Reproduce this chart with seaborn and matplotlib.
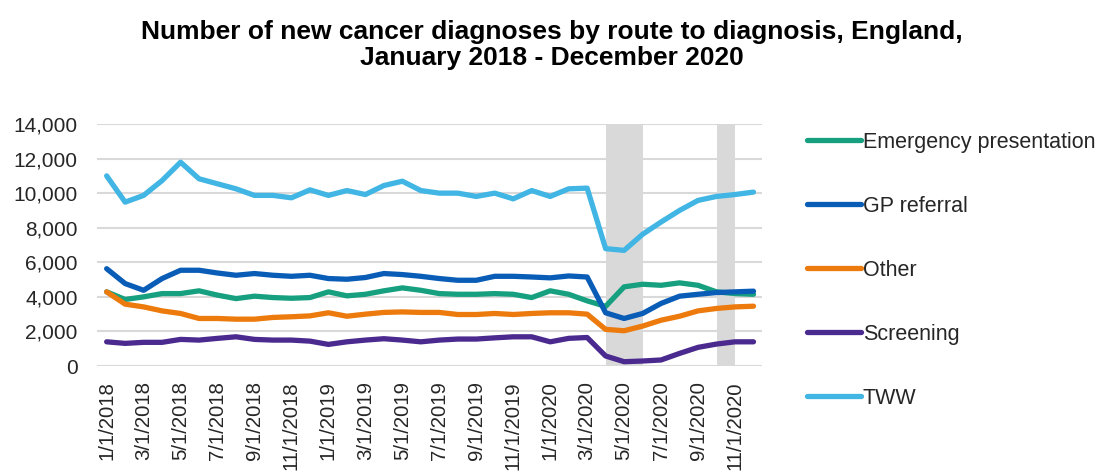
import numpy as np
import pandas as pd
import matplotlib
matplotlib.use("Agg")
import matplotlib.pyplot as plt
import seaborn as sns
from matplotlib.lines import Line2D

# ---------------- data ----------------
months = pd.date_range("2018-01-01", "2020-12-01", freq="MS")

emergency = [4290, 3850, 4000, 4190, 4190, 4350, 4100, 3900, 4040,
             3960, 3920, 3960, 4290, 4060, 4150, 4350, 4520, 4380,
             4190, 4150, 4150, 4190, 4150, 3960, 4350, 4150, 3770,
             3450, 4580, 4730, 4670, 4810, 4670, 4290, 4190, 4150]
gp_referral = [5630, 4770, 4380, 5060, 5540, 5540, 5380, 5250, 5350,
               5250, 5190, 5250, 5060, 5020, 5120, 5350, 5290, 5190,
               5060, 4960, 4960, 5190, 5190, 5150, 5100, 5210, 5150,
               3080, 2750, 3040, 3620, 4040, 4150, 4250, 4290, 4330]
other = [4290, 3580, 3420, 3190, 3040, 2750, 2750, 2710, 2710,
         2810, 2850, 2900, 3080, 2880, 3000, 3100, 3130, 3100,
         3100, 2980, 2980, 3040, 2980, 3040, 3080, 3080, 3000,
         2120, 2040, 2310, 2650, 2880, 3190, 3330, 3420, 3460]
screening = [1400, 1310, 1370, 1370, 1540, 1500, 1600, 1690, 1540,
             1500, 1500, 1440, 1250, 1400, 1500, 1580, 1500, 1400,
             1500, 1560, 1560, 1630, 1690, 1690, 1400, 1600, 1650,
             580, 250, 290, 350, 730, 1080, 1270, 1400, 1400]
tww = [11000, 9480, 9870, 10730, 11790, 10830, 10540, 10250, 9870,
       9870, 9730, 10190, 9870, 10150, 9920, 10440, 10690, 10150,
       10000, 10000, 9810, 10000, 9670, 10150, 9810, 10250, 10290,
       6790, 6690, 7620, 8330, 9000, 9580, 9810, 9920, 10060]

series_names = ["Emergency presentation", "GP referral", "Other", "Screening", "TWW"]
series_values = [emergency, gp_referral, other, screening, tww]
series_colors = ["#17a07f", "#0a5db6", "#ec7a0c", "#4b2a8f", "#41b5e3"]

shade_start = ["2020-04-01", "2020-10-01"]
shade_end = ["2020-06-01", "2020-11-01"]

y_ticks = [0, 2000, 4000, 6000, 8000, 10000, 12000, 14000]

title = "Number of new cancer diagnoses by route to diagnosis, England,\nJanuary 2018 - December 2020"

# ---------------- build ----------------
rows = []
for name, vals in zip(series_names, series_values):
    for i, (m, v) in enumerate(zip(months, vals)):
        rows.append({"idx": i, "month": m, "route": name, "count": v})
df = pd.DataFrame(rows)

sns.set_theme(style="white")
plt.rcParams["font.family"] = ["Liberation Sans", "DejaVu Sans"]

fig = plt.figure(figsize=(11.04, 4.74), dpi=100)
ax = fig.add_axes([0.0879, 0.2278, 0.6023, 0.5106])

sns.lineplot(data=df, x="idx", y="count", hue="route", hue_order=series_names,
             palette=dict(zip(series_names, series_colors)), linewidth=3.8,
             ax=ax, legend=False, zorder=3)

month_list = list(months)
for s, e in zip(shade_start, shade_end):
    i0 = month_list.index(pd.Timestamp(s))
    i1 = month_list.index(pd.Timestamp(e))
    ax.axvspan(i0, i1, color="#d9d9d9", lw=0, zorder=1)

ax.set_xlim(-0.52, len(months) - 0.54)
ax.set_ylim(0, 14000)
ax.set_yticks(y_ticks)
ax.set_yticklabels([f"{v:,}" for v in y_ticks])
xt = list(range(0, len(months), 2))
ax.set_xticks(xt)
ax.set_xticklabels([f"{months[i].month}/1/{months[i].year}" for i in xt], rotation=90,
                   va="top", ha="center")
ax.tick_params(axis="y", labelsize=15, pad=14, length=0, labelcolor="#262626")
ax.tick_params(axis="x", labelsize=14.7, pad=11, length=0, labelcolor="#262626")
ax.set_xlabel("")
ax.set_ylabel("")
ax.yaxis.grid(True, color="#d9d9d9", lw=1.5, zorder=0.5)
ax.xaxis.grid(False)
ax.set_axisbelow(True)
for sp in ax.spines.values():
    sp.set_visible(False)

handles = [Line2D([0], [0], color=c, lw=3.8, solid_capstyle="round") for c in series_colors]
fig.legend(handles, series_names, loc="upper left", bbox_to_anchor=(0.731, 0.722),
           frameon=False, fontsize=15.5, handlelength=2.5, handletextpad=0.1,
           labelspacing=2.0, borderpad=0, borderaxespad=0)

fig.text(0.5, 0.958, title, ha="center", va="top", fontsize=19, fontweight="bold",
         linespacing=1.13, color="black")

fig.savefig("out.png", dpi=100)
